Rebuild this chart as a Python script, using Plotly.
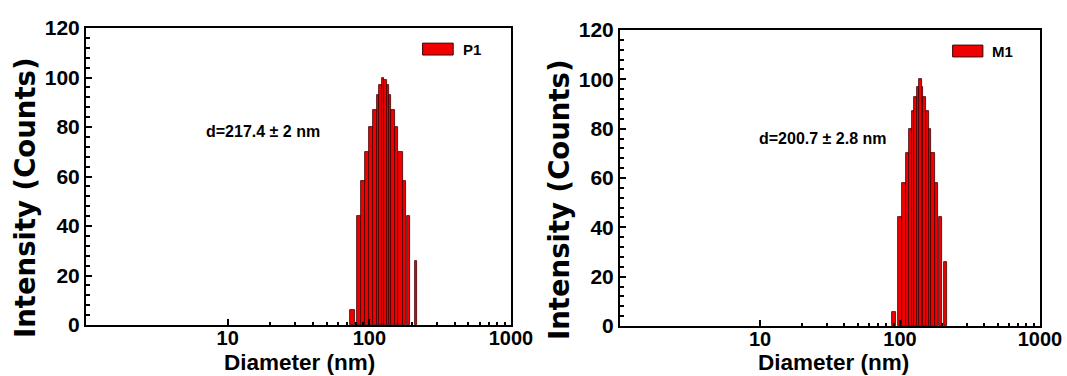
import plotly.graph_objects as go

# ---------------- data ----------------
# P1 sample: size bins (nm, lower / upper edge) and intensity counts
p1_bin_lo = [73.0, 81.4, 87.2, 93.6, 99.8, 106.5, 112.6, 117.5, 122.1, 126.8,
             132.5, 137.5, 142.8, 151.6, 160.0, 171.8, 185.2, 209.8]
p1_bin_hi = [79.1, 87.2, 93.6, 99.8, 106.5, 112.6, 117.5, 122.1, 126.8, 132.5,
             137.5, 142.8, 151.6, 160.0, 171.8, 181.3, 193.5, 217.8]
p1_counts = [6, 44, 58, 70, 80, 87, 93, 97, 100, 99,
             97, 93, 87, 80, 70, 58, 44, 26]

# M1 sample
m1_bin_lo = [87.7, 97.3, 103.8, 109.8, 115.4, 121.2, 126.5, 131.6, 136.0,
             142.9, 146.7, 152.6, 160.3, 167.3, 177.0, 189.0, 206.2]
m1_bin_hi = [93.2, 103.8, 109.8, 115.4, 121.2, 126.5, 131.6, 136.0, 142.9,
             146.7, 152.6, 160.3, 167.3, 177.0, 185.9, 199.5, 215.6]
m1_counts = [5.5, 44, 58, 70, 80, 87, 93, 97, 100,
             97, 93, 87, 80, 70, 58, 44, 26]

series_names = ["P1", "M1"]
size_labels = ["d=217.4 \u00b1 2 nm", "d=200.7 \u00b1 2.8 nm"]
x_title = "Diameter (nm)"
y_title = "Intensity (Counts)"
x_tick_vals = [10, 100, 1000]
y_tick_vals = [0, 20, 40, 60, 80, 100, 120]

# ---------------- styling ----------------
BAR_FILL = "#F00000"
BAR_EDGE = "#3C0000"
FONT = "Liberation Sans"
W, H = 1067, 376

x_minor_vals = [k * 10 ** e for e in (1, 2) for k in range(2, 10)]

fig = go.Figure()

panels = [
    dict(lo=p1_bin_lo, hi=p1_bin_hi, y=p1_counts, xa="x", ya="y"),
    dict(lo=m1_bin_lo, hi=m1_bin_hi, y=m1_counts, xa="x2", ya="y2"),
]
for name, p in zip(series_names, panels):
    widths = [h - l for l, h in zip(p["lo"], p["hi"])]
    fig.add_trace(go.Bar(
        x=p["lo"], y=p["y"], width=widths, offset=0,
        marker=dict(color=BAR_FILL, line=dict(color=BAR_EDGE, width=0.8)),
        name=name, showlegend=False, xaxis=p["xa"], yaxis=p["ya"],
    ))


def xaxis_cfg(domain, anchor):
    return dict(
        type="log", domain=domain, anchor=anchor, range=[0, 3],
        tickmode="array", tickvals=x_tick_vals,
        ticktext=[str(v) for v in x_tick_vals],
        ticks="inside", ticklen=6, tickwidth=1.5, tickcolor="black",
        minor=dict(tickmode="array", tickvals=x_minor_vals, ticks="inside",
                   ticklen=3, tickwidth=1.5, tickcolor="black"),
        showline=True, linecolor="black", linewidth=2, mirror=True,
        showgrid=False, zeroline=False,
        ticklabelstandoff=-6,
        tickfont=dict(family=FONT, size=20, color="black", weight="bold"),
        automargin=False,
    )


def yaxis_cfg(domain, anchor):
    return dict(
        domain=domain, anchor=anchor, range=[0, 120],
        tickmode="array", tickvals=y_tick_vals,
        ticks="inside", ticklen=6, tickwidth=1.5, tickcolor="black",
        minor=dict(dtick=4, ticks="inside", ticklen=4, tickwidth=1.5,
                   tickcolor="black"),
        showline=True, linecolor="black", linewidth=2, mirror=True,
        showgrid=False, zeroline=False,
        tickfont=dict(family=FONT, size=21, color="black", weight="bold"),
        automargin=False,
    )


fig.update_layout(
    width=W, height=H,
    margin=dict(l=0, r=0, t=0, b=0),
    paper_bgcolor="white", plot_bgcolor="white",
    bargap=0,
    xaxis=xaxis_cfg([86 / W, 511 / W], "y"),
    yaxis=yaxis_cfg([(H - 325) / H, (H - 28) / H], "x"),
    xaxis2=xaxis_cfg([620 / W, 1040 / W], "y2"),
    yaxis2=yaxis_cfg([(H - 326) / H, (H - 30) / H], "x2"),
    showlegend=False,
)

# axis titles (placed as text, centred where the reference has them)
for cx in [299, 833]:
    fig.add_annotation(xref="paper", yref="paper", x=cx / W, y=0,
                       text=x_title, showarrow=False, borderpad=0,
                       xanchor="center", yanchor="bottom",
                       font=dict(family=FONT, size=22.5, color="black",
                                 weight="bold"))
for cx, cy in [(25, 198), (559, 200)]:
    fig.add_annotation(xref="paper", yref="paper", x=cx / W, y=(H - cy) / H,
                       text=y_title, textangle=-90, showarrow=False,
                       xanchor="center", yanchor="middle",
                       font=dict(family="DejaVu Sans", size=27.5,
                                 color="black", weight="bold"))

# size annotations
fig.add_annotation(x=1.249, y=78, xref="x", yref="y", text=size_labels[0],
                   showarrow=False,
                   font=dict(family=FONT, size=16, color="black", weight="bold"))
fig.add_annotation(x=1.45, y=76, xref="x2", yref="y2", text=size_labels[1],
                   showarrow=False,
                   font=dict(family=FONT, size=16, color="black", weight="bold"))

# legend keys (swatch + label)
for name, xr, yr in [(series_names[0], "x domain", "y domain"),
                     (series_names[1], "x2 domain", "y2 domain")]:
    fig.add_shape(type="rect", xref=xr, yref=yr, x0=0.792, x1=0.864,
                  y0=0.909, y1=0.949, fillcolor=BAR_FILL,
                  line=dict(color=BAR_EDGE, width=1))
    fig.add_annotation(xref=xr, yref=yr, x=0.882, y=0.929, text=name,
                       xanchor="left", yanchor="middle", showarrow=False,
                       font=dict(family=FONT, size=15, color="black",
                                 weight="bold"))

fig.write_html("out.html")
